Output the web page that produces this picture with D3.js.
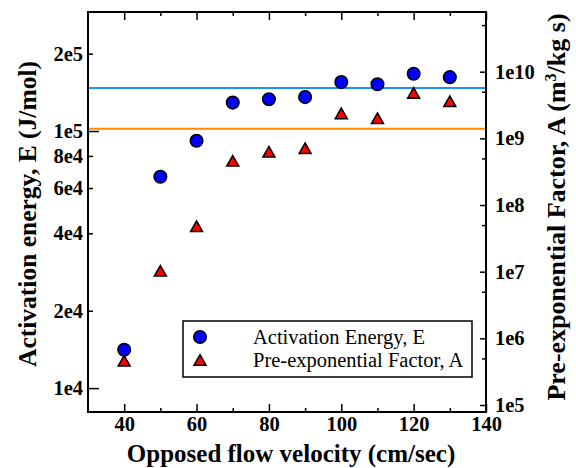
<!DOCTYPE html>
<html>
<head>
  <meta charset="utf-8">
  <style>
  body { margin: 0; background: #fff; }
  </style>
  <script src="https://d3js.org/d3.v7.min.js"></script>
</head>
<body>
<svg id="chart"></svg>
<script>

// data
var velocity = [40, 50, 60, 70, 80, 90, 100, 110, 120, 130];
var energyE  = [1.41e4, 6.64e4, 9.16e4, 1.29e5, 1.33e5, 1.355e5, 1.55e5, 1.52e5, 1.67e5, 1.62e5];
var factorA  = [4.6e5, 1.03e7, 4.8e7, 4.6e8, 6.3e8, 7.1e8, 2.37e9, 2.0e9, 4.8e9, 3.6e9];

// horizontal reference lines (on the energy axis)
var refValues = [1.47e5, 1.02e5];
var refColors = ["#1e90ff", "#ff8c00"];

var xMajor = [40, 60, 80, 100, 120, 140];
var xMinor = [50, 70, 90, 110, 130];
var eTicks = [1e4, 2e4, 4e4, 6e4, 8e4, 1e5, 2e5];
var eLabels = ["1e4", "2e4", "4e4", "6e4", "8e4", "1e5", "2e5"];
var eLong = [1e4, 1e5];
var aTicks = [1e5, 1e6, 1e7, 1e8, 1e9, 1e10];
var aLabels = ["1e5", "1e6", "1e7", "1e8", "1e9", "1e10"];
var aMinor = [5e5, 5e6, 5e7, 5e8, 5e9, 5e10];

var legendNames = ["Activation Energy, E", "Pre-exponential Factor, A"];

var FONT = "Liberation Serif, DejaVu Serif, serif";

var W = 576, H = 468;
var margin = {top: 12, right: 90, bottom: 56, left: 88},
    width = W - margin.left - margin.right,
    height = H - margin.top - margin.bottom;

var svg = d3.select("#chart").attr("width", W).attr("height", H);
var g = svg.append("g").attr("transform", "translate(" + margin.left + "," + margin.top + ")");

var x = d3.scaleLinear().domain([30, 140]).range([0, width]);
var yE = d3.scaleLog().domain([Math.pow(10, 3.907), Math.pow(10, 5.463)]).range([height, 0]);
var yA = d3.scaleLog().domain([Math.pow(10, 4.895), Math.pow(10, 10.895)]).range([height, 0]);

function tickText(sel) {
  sel.attr("font-family", null);
  sel.selectAll("text")
    .attr("font-family", FONT)
    .attr("font-size", 20.5)
    .attr("font-weight", "bold")
    .attr("fill", "#000");
}

// reference lines
g.selectAll(".ref").data(refValues).enter().append("line")
  .attr("x1", 0).attr("x2", width)
  .attr("y1", function(d) { return yE(d); })
  .attr("y2", function(d) { return yE(d); })
  .attr("stroke", function(d, i) { return refColors[i]; })
  .attr("stroke-width", 2);

// bottom axis with inward ticks
var xAxis = g.append("g").attr("transform", "translate(0," + height + ")")
  .call(d3.axisBottom(x).tickValues(xMajor).tickSize(-8).tickPadding(4).tickFormat(d3.format("d")));
xAxis.select(".domain").remove();
tickText(xAxis);

g.append("g").attr("transform", "translate(0," + height + ")")
  .call(d3.axisBottom(x).tickValues(xMinor).tickSize(-4).tickFormat(""))
  .select(".domain").remove();

// top mirrored ticks
g.append("g").call(d3.axisTop(x).tickValues(xMajor).tickSize(-8).tickFormat(""))
  .select(".domain").remove();
g.append("g").call(d3.axisTop(x).tickValues(xMinor).tickSize(-4).tickFormat(""))
  .select(".domain").remove();

// left axis (energy)
var leftAxis = g.append("g")
  .call(d3.axisLeft(yE).tickValues(eTicks).tickSize(-5).tickPadding(5)
    .tickFormat(function(d, i) { return eLabels[i]; }));
leftAxis.select(".domain").remove();
tickText(leftAxis);
leftAxis.selectAll(".tick line").attr("x2", function(d) { return eLong.indexOf(d) >= 0 ? 11 : 5; });

// right axis (pre-exponential factor)
var rightAxis = g.append("g").attr("transform", "translate(" + width + ",0)")
  .call(d3.axisRight(yA).tickValues(aTicks).tickSize(-6).tickPadding(9)
    .tickFormat(function(d, i) { return aLabels[i]; }));
rightAxis.select(".domain").remove();
tickText(rightAxis);
g.append("g").attr("transform", "translate(" + width + ",0)")
  .call(d3.axisRight(yA).tickValues(aMinor).tickSize(-4).tickFormat(""))
  .select(".domain").remove();

g.selectAll(".tick line").attr("stroke", "#000").attr("stroke-width", 1.5);

// frame
g.append("rect").attr("width", width).attr("height", height)
  .attr("fill", "none").attr("stroke", "#000").attr("stroke-width", 2);

// points
var pts = velocity.map(function(v, i) { return {v: v, e: energyE[i], a: factorA[i]}; });
var tri = "M0,-5.3L6,5.3L-6,5.3Z";

g.selectAll(".circ").data(pts).enter().append("circle")
  .attr("cx", function(d) { return x(d.v); })
  .attr("cy", function(d) { return yE(d.e); })
  .attr("r", 6.3)
  .attr("fill", "#0000ff").attr("stroke", "#000").attr("stroke-width", 1.5);

g.selectAll(".tri").data(pts).enter().append("path")
  .attr("d", tri)
  .attr("transform", function(d) { return "translate(" + x(d.v) + "," + yA(d.a) + ")"; })
  .attr("fill", "#ff0000").attr("stroke", "#000").attr("stroke-width", 1.5);

// legend
var leg = g.append("g").attr("transform", "translate(95,309)");
leg.append("rect").attr("width", 289).attr("height", 56)
  .attr("fill", "#fff").attr("stroke", "#000").attr("stroke-width", 1.5);
leg.append("circle").attr("cx", 17).attr("cy", 16).attr("r", 6.3)
  .attr("fill", "#0000ff").attr("stroke", "#000").attr("stroke-width", 1.5);
leg.append("path").attr("d", tri).attr("transform", "translate(17,39)")
  .attr("fill", "#ff0000").attr("stroke", "#000").attr("stroke-width", 1.5);
leg.selectAll(".legend-text").data(legendNames).enter().append("text")
  .attr("font-family", FONT).attr("font-size", 20.5)
  .attr("x", 70)
  .attr("y", function(d, i) { return 22.5 + i * 23.4; })
  .text(function(d) { return d; });

// axis titles
function titleText(sel, size) {
  sel.attr("font-family", FONT).attr("font-size", size).attr("font-weight", "bold")
    .attr("text-anchor", "middle");
}

svg.append("text").call(titleText, 25)
  .attr("x", 291).attr("y", 462)
  .text("Opposed flow velocity (cm/sec)");

svg.append("text").call(titleText, 25.5)
  .attr("transform", "translate(36,214) rotate(-90)")
  .text("Activation energy, E (J/mol)");

var rt = svg.append("text").call(titleText, 26)
  .attr("transform", "translate(565,207) rotate(-90)");
rt.append("tspan").text("Pre-exponential Factor, A (m");
rt.append("tspan").attr("dy", -9).attr("font-size", 16).text("3");
rt.append("tspan").attr("dy", 9).text("/kg s)");

</script>
</body>
</html>
